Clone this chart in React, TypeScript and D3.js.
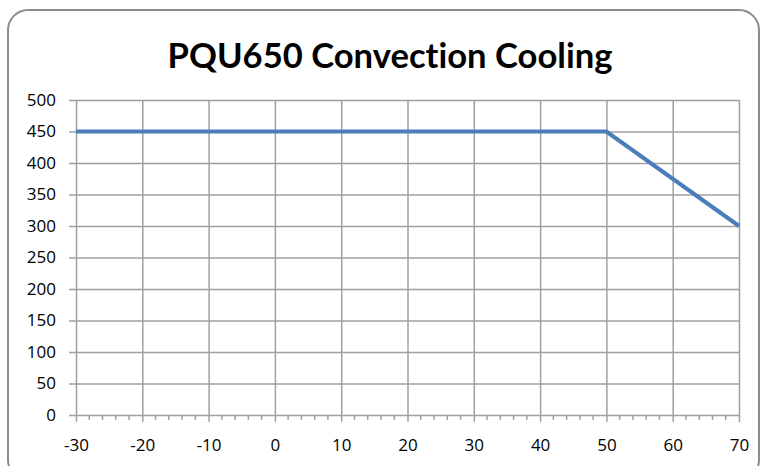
import React, {useEffect, useRef} from 'react'
import * as d3 from 'd3'

const title = 'PQU650 Convection Cooling'
const temps = [-30, 50, 70]
const watts = [450, 450, 300]
const xTicks = [-30, -20, -10, 0, 10, 20, 30, 40, 50, 60, 70]
const yTicks = [0, 50, 100, 150, 200, 250, 300, 350, 400, 450, 500]

const W = 763
const H = 466

const App = () => {
  const ref = useRef<SVGSVGElement>(null)

  useEffect(() => {
    const svg = d3.select(ref.current)
    svg.selectAll('*').remove()

    const x = d3.scaleLinear().domain([-30, 70]).range([76, 739])
    const y = d3.scaleLinear().domain([0, 500]).range([415, 100])
    const grid = '#a0a0a0'
    const font = "'Open Sans', sans-serif"

    // outer frame
    svg.append('rect')
      .attr('x', 8).attr('y', 10)
      .attr('width', 751).attr('height', 470)
      .attr('rx', 20)
      .attr('fill', '#fff')
      .attr('stroke', '#8c8c8c')
      .attr('stroke-width', 2)

    svg.append('text')
      .attr('x', 390).attr('y', 68)
      .attr('text-anchor', 'middle')
      .attr('font-family', "Lato, 'Open Sans', sans-serif")
      .attr('font-weight', 'bold')
      .attr('font-size', 35)
      .attr('textLength', 445)
      .attr('lengthAdjust', 'spacingAndGlyphs')
      .style('font-variant-ligatures', 'none')
      .style('font-feature-settings', '"liga" 0, "clig" 0')
      .attr('fill', '#000')
      .text(title)

    // horizontal grid + y ticks
    const yg = svg.append('g')
      .attr('transform', `translate(${x(-30)},0)`)
      .call(d3.axisLeft(y).tickValues(yTicks).tickFormat(d => String(d))
        .tickSize(-(x(70) - x(-30))).tickSizeOuter(0).tickPadding(0))
    yg.select('.domain').remove()
    yg.selectAll('.tick line')
      .attr('x1', -7)
      .attr('stroke', grid)
      .attr('stroke-width', 1.5)
    yg.selectAll('.tick text')
      .attr('x', -20)
      .attr('font-family', font)
      .attr('font-size', 17)
      .attr('fill', '#000')

    // vertical grid + x ticks
    const xg = svg.append('g')
      .attr('transform', `translate(0,${y(0)})`)
      .call(d3.axisBottom(x).tickValues(xTicks).tickFormat(d => String(d))
        .tickSize(-(y(0) - y(500))).tickSizeOuter(0).tickPadding(0))
    xg.select('.domain').remove()
    xg.selectAll('.tick line')
      .attr('y1', 7)
      .attr('stroke', grid)
      .attr('stroke-width', 1.5)
    xg.selectAll('.tick text')
      .attr('y', 36)
      .attr('dy', 0)
      .attr('font-family', font)
      .attr('font-size', 17)
      .attr('fill', '#000')

    // minor ticks every 2
    const minor = d3.range(-30, 71, 2).filter(v => v % 10 !== 0)
    svg.append('g').selectAll('line')
      .data(minor)
      .join('line')
      .attr('x1', d => x(d)).attr('x2', d => x(d))
      .attr('y1', y(0)).attr('y2', y(0) + 5)
      .attr('stroke', grid)
      .attr('stroke-width', 1.5)

    const line = d3.line<number>()
      .x((d, i) => x(temps[i]))
      .y(d => y(d))

    svg.append('path')
      .datum(watts)
      .attr('d', line)
      .attr('fill', 'none')
      .attr('stroke', '#4a7ebb')
      .attr('stroke-width', 4)
  }, [])

  return <svg ref={ref} width={W} height={H}
    style={{position: 'absolute', left: 0, top: 0, display: 'block'}} />
}

export default App
